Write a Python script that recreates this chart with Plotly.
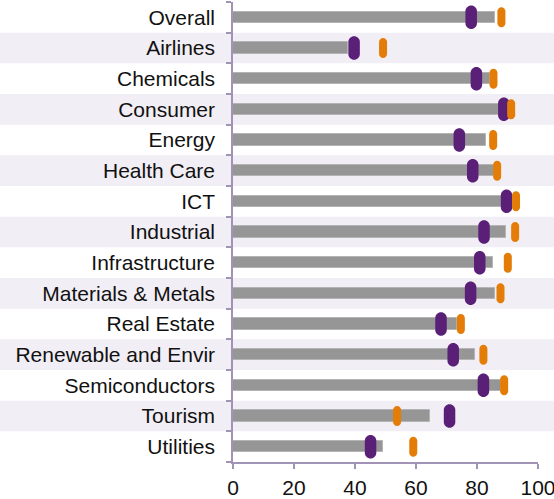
import plotly.graph_objects as go

# Sector scores: grey bar = current level, purple pill = peer score, orange pill = target
sectors = [
    "Overall", "Airlines", "Chemicals", "Consumer", "Energy", "Health Care", "ICT",
    "Industrial", "Infrastructure", "Materials & Metals", "Real Estate",
    "Renewable and Envir", "Semiconductors", "Tourism", "Utilities",
]
bar_values = [86.0, 37.8, 84.1, 90.0, 83.0, 85.6, 91.0, 89.5, 85.2, 86.0, 73.4, 79.5, 87.8, 64.6, 49.1]
purple_values = [78.1, 39.7, 79.8, 88.8, 74.2, 78.6, 89.7, 82.3, 80.9, 77.9, 68.2, 72.2, 82.1, 71.0, 45.1]
orange_values = [88.0, 49.2, 85.4, 91.2, 85.3, 86.6, 92.8, 92.5, 90.1, 87.7, 74.7, 82.1, 88.9, 53.8, 59.1]
x_ticks = [0, 20, 40, 60, 80, 100]

AXIS = "#a193b6"
BAND = "#f2eef5"
GREY = "#969696"
PURPLE = "#5a1f76"
ORANGE = "#e47c08"
FONT = dict(family="Liberation Sans, Arial, sans-serif", size=21, color="#111111")

rows = list(range(len(sectors)))


def pill_path(w, h):
    """Rounded capsule centred on its anchor, in pixel units."""
    r = w / 2.0
    a = h / 2.0 - r
    c = 0.5523 * r
    return (
        f"M {-r},{-a} L {-r},{a} "
        f"C {-r},{a + c} {-c},{a + r} 0,{a + r} "
        f"C {c},{a + r} {r},{a + c} {r},{a} "
        f"L {r},{-a} "
        f"C {r},{-a - c} {c},{-a - r} 0,{-a - r} "
        f"C {-c},{-a - r} {-r},{-a - c} {-r},{-a} Z"
    )


fig = go.Figure()
fig.add_trace(go.Bar(
    x=bar_values, y=rows, orientation="h", width=0.37,
    marker=dict(color=GREY, line=dict(color="#b4b4b4", width=1)),
    showlegend=False, hoverinfo="skip",
))

shapes = []
# alternating light bands behind every other row
for i in rows:
    if i % 2 == 1:
        shapes.append(dict(
            type="rect", xref="paper", yref="y", x0=-2, x1=2,
            y0=i - 0.5, y1=i + 0.5, fillcolor=BAND, line=dict(width=0), layer="below",
        ))

for vals, color, w, h in ((purple_values, PURPLE, 11.5, 23.5), (orange_values, ORANGE, 8, 20)):
    for i, v in zip(rows, vals):
        shapes.append(dict(
            type="path", xref="x", yref="y",
            xsizemode="pixel", ysizemode="pixel", xanchor=v, yanchor=i,
            path=pill_path(w, h), fillcolor=color, line=dict(width=0), layer="above",
        ))

fig.update_layout(
    width=554, height=499,
    margin=dict(l=233, r=16, t=2, b=37),
    paper_bgcolor="white", plot_bgcolor="rgba(0,0,0,0)",
    font=FONT, shapes=shapes, bargap=0,
)
fig.update_xaxes(
    range=[0, 100], tickvals=x_ticks, ticks="outside", ticklen=5, tickwidth=1.5,
    tickcolor=AXIS, showline=True, linecolor=AXIS, linewidth=1.5,
    showgrid=False, zeroline=False, tickfont=FONT, ticklabelstandoff=1,
    automargin=False, ticklabeloverflow="allow",
)
fig.update_yaxes(
    range=[len(sectors) - 0.5, -0.5], tickvals=rows, ticktext=sectors, ticks="",
    showline=True, linecolor=AXIS, linewidth=1.5, showgrid=False, zeroline=False,
    tickfont=FONT, ticklabelstandoff=12, automargin=False,
    minor=dict(tickvals=[i - 0.5 for i in range(len(sectors) + 1)], ticks="outside",
               ticklen=5, tickwidth=1.5, tickcolor=AXIS, showgrid=False),
)

fig.write_html("out.html")
